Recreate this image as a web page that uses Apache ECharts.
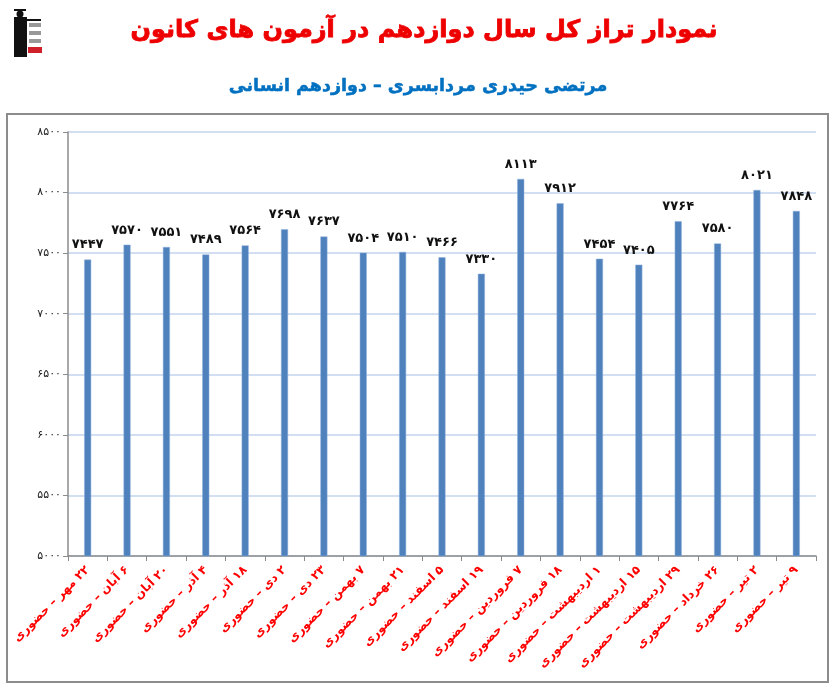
<!DOCTYPE html>
<html>
<head>
<meta charset="utf-8">
<title>نمودار تراز</title>
<script src="https://cdn.jsdelivr.net/npm/echarts@6/dist/echarts.min.js"></script>
<style>
  html, body { margin: 0; padding: 0; background: #fff; }
  #chart { width: 831px; height: 687px; direction: rtl; }
</style>
</head>
<body>
<div id="chart"></div>
<script>
// exam dates (Persian calendar), all "حضوری"
var categories = [
  '۲۲ مهر – حضوری', '۶ آبان – حضوری', '۲۰ آبان – حضوری', '۴ آذر – حضوری',
  '۱۸ آذر – حضوری', '۲ دی – حضوری', '۲۳ دی – حضوری', '۷ بهمن – حضوری',
  '۲۱ بهمن – حضوری', '۵ اسفند – حضوری', '۱۹ اسفند – حضوری', '۷ فروردین – حضوری',
  '۱۸ فروردین – حضوری', '۱ اردیبهشت – حضوری', '۱۵ اردیبهشت – حضوری',
  '۲۹ اردیبهشت – حضوری', '۲۶ خرداد – حضوری', '۲ تیر – حضوری', '۹ تیر – حضوری'
]
var scores = [7447, 7570, 7551, 7489, 7564, 7698, 7637, 7504, 7510, 7466,
  7330, 8113, 7912, 7454, 7405, 7764, 7580, 8021, 7848]
var yMin = 5000
var yMax = 8500
var yStep = 500

var titleText = 'نمودار تراز کل سال دوازدهم در آزمون های کانون'
var subText = 'مرتضی حیدری مردابسری – دوازدهم انسانی'

// latin digits -> persian digits
function fa (n) {
  return String(n).replace(/[0-9]/g, function (d) {
    return '۰۱۲۳۴۵۶۷۸۹'[+d]
  })
}

var chart = echarts.init(document.getElementById('chart'))
var fontFa = 'DejaVu Sans'

var option = {
  backgroundColor: '#fff',
  animation: false,
  grid: {
    left: 68,
    right: 15,
    top: 132,
    bottom: 131
  },
  xAxis: {
    type: 'category',
    data: categories,
    axisLine: { lineStyle: { color: '#8c8c8c', width: 1.5 } },
    axisTick: { show: true, length: 5, lineStyle: { color: '#8c8c8c' } },
    axisLabel: {
      interval: 0,
      rotate: 45,
      color: '#ff0000',
      fontFamily: fontFa,
      fontWeight: 'bold',
      fontSize: 12,
      margin: 12
    }
  },
  yAxis: {
    type: 'value',
    min: yMin,
    max: yMax,
    interval: yStep,
    axisLine: { show: true, lineStyle: { color: '#8c8c8c', width: 1.5 } },
    axisTick: { show: true, length: 5, lineStyle: { color: '#8c8c8c' } },
    axisLabel: {
      color: '#222',
      fontFamily: fontFa,
      fontSize: 11,
      margin: 7,
      formatter: function (v) { return fa(v) }
    },
    splitLine: { lineStyle: { color: '#c3d3ec', width: 1.5 } }
  },
  series: [{
    type: 'bar',
    data: scores,
    barWidth: 7,
    itemStyle: { color: '#4f81bd', borderColor: '#8fb0dc', borderWidth: 0.5 },
    label: {
      show: true,
      position: 'top',
      distance: 8,
      color: '#111',
      fontFamily: fontFa,
      fontWeight: 'bold',
      fontSize: 13,
      formatter: function (p) { return fa(p.value) }
    }
  }],
  graphic: [
    // outer frame
    {
      type: 'rect',
      shape: { x: 7, y: 114, width: 821, height: 568 },
      style: { fill: 'none', stroke: '#8c8c8c', lineWidth: 2 },
      silent: true
    },
    {
      type: 'text',
      x: 424,
      y: 31,
      style: {
        text: titleText,
        fill: '#ee0000',
        font: 'bold 24px "DejaVu Sans"',
        align: 'center',
        verticalAlign: 'middle',
        stroke: '#ee0000',
        lineWidth: 0.8
      }
    },
    {
      type: 'text',
      x: 418,
      y: 86,
      style: {
        text: subText,
        fill: '#0070c0',
        font: 'bold 17.5px "DejaVu Sans"',
        align: 'center',
        verticalAlign: 'middle',
        stroke: '#0070c0',
        lineWidth: 0.5
      }
    },
    // little logo, top left
    {
      type: 'group',
      x: 10,
      y: 8,
      children: [
        { type: 'rect', shape: { x: 4, y: 9, width: 13, height: 40 }, style: { fill: '#111' } },
        { type: 'circle', shape: { cx: 10, cy: 6, r: 3.5 }, style: { fill: '#111' } },
        { type: 'rect', shape: { x: 4, y: 1, width: 12, height: 2 }, style: { fill: '#111' } },
        { type: 'rect', shape: { x: 17, y: 11, width: 14, height: 2 }, style: { fill: '#111' } },
        { type: 'rect', shape: { x: 19, y: 15, width: 12, height: 4 }, style: { fill: '#999' } },
        { type: 'rect', shape: { x: 19, y: 23, width: 12, height: 4 }, style: { fill: '#999' } },
        { type: 'rect', shape: { x: 19, y: 31, width: 12, height: 4 }, style: { fill: '#999' } },
        { type: 'rect', shape: { x: 18, y: 39, width: 14, height: 6 }, style: { fill: '#d0202a' } }
      ]
    }
  ]
}

chart.setOption(option)
</script>
</body>
</html>
